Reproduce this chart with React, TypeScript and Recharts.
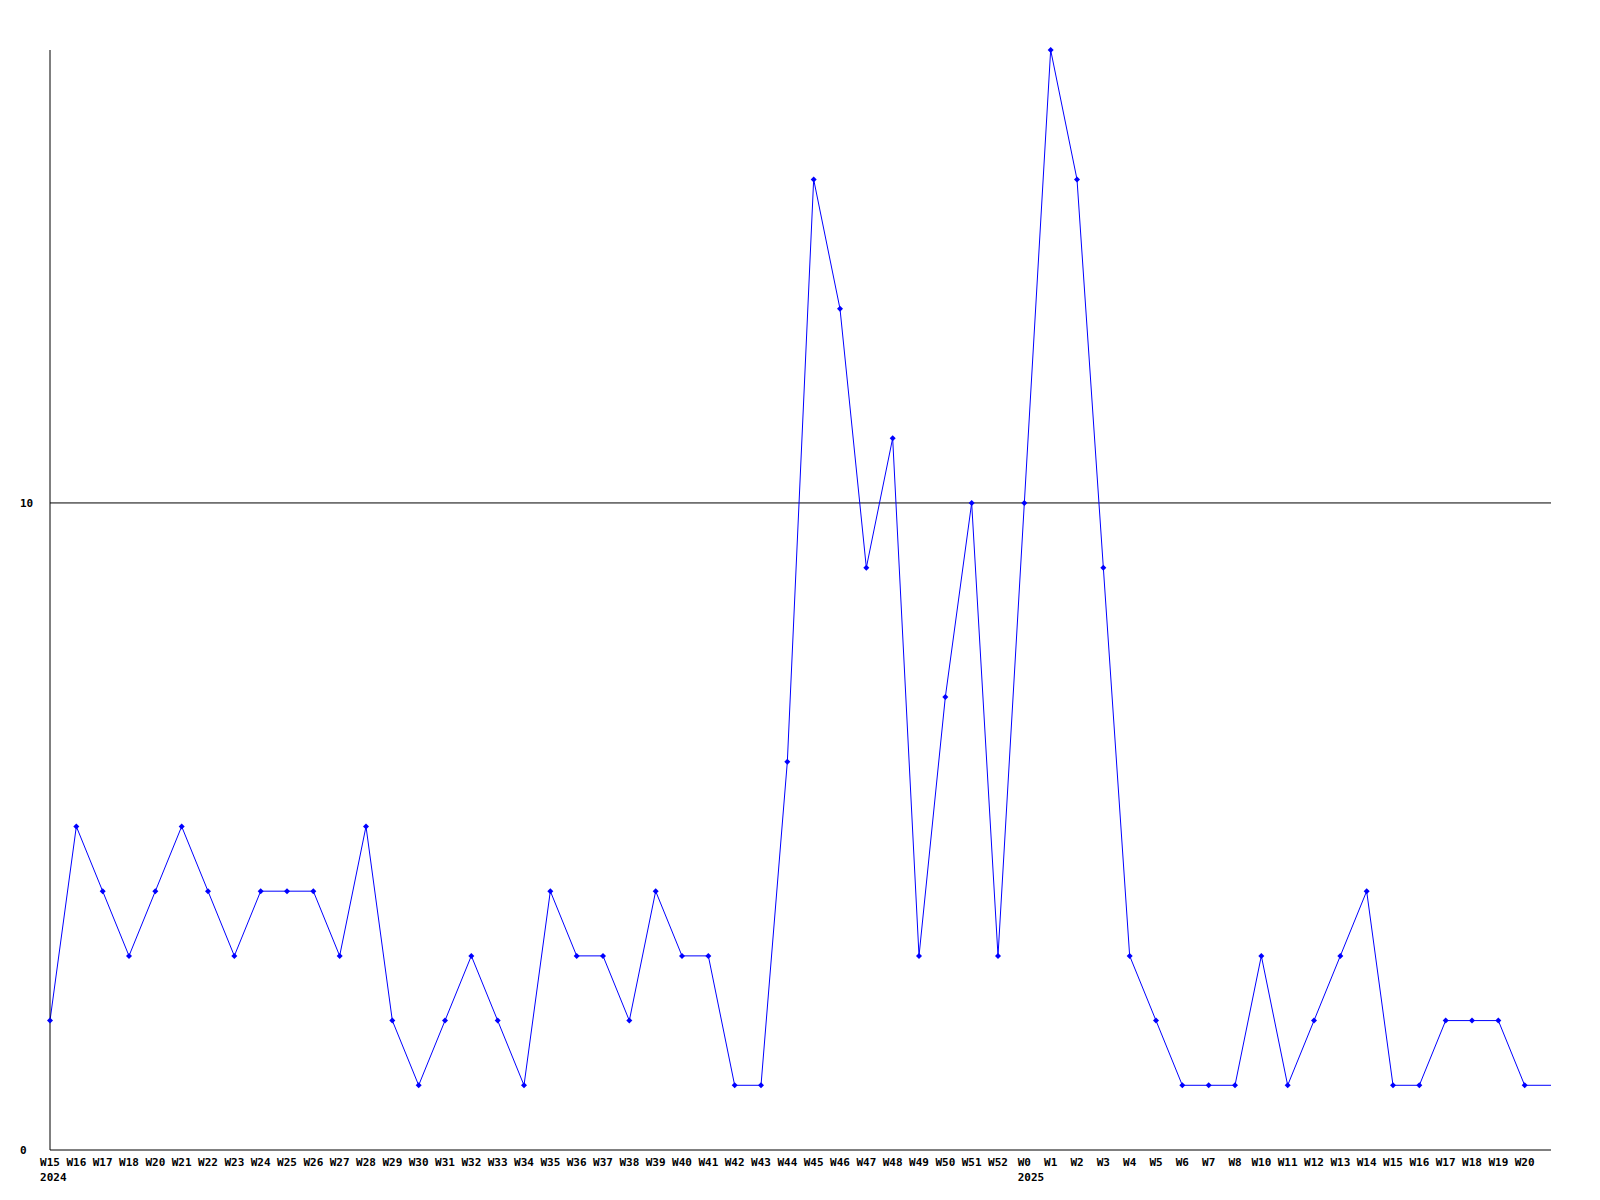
import { LineChart, Line, XAxis, YAxis, ReferenceLine } from "recharts"

document.body.style.margin = "0"

const weeks = [
  "W15", "W16", "W17", "W18", "W20", "W21", "W22", "W23", "W24", "W25", "W26", "W27", "W28",
  "W29", "W30", "W31", "W32", "W33", "W34", "W35", "W36", "W37", "W38", "W39", "W40", "W41",
  "W42", "W43", "W44", "W45", "W46", "W47", "W48", "W49", "W50", "W51", "W52",
  "W0", "W1", "W2", "W3", "W4", "W5", "W6", "W7", "W8", "W10", "W11", "W12", "W13", "W14",
  "W15", "W16", "W17", "W18", "W19", "W20", "",
]

const counts = [
  2, 5, 4, 3, 4, 5, 4, 3, 4, 4, 4, 3, 5,
  2, 1, 2, 3, 2, 1, 4, 3, 3, 2, 4, 3, 3,
  1, 1, 6, 15, 13, 9, 11, 3, 7, 10, 3,
  10, 17, 15, 9, 3, 2, 1, 1, 1, 3, 1, 2, 3, 4,
  1, 1, 2, 2, 2, 1, 1,
]

const yearMarks = [
  { index: 0, label: "2024" },
  { index: 37, label: "2025" },
]

const yTicks = [0, 10]

const data = weeks.map((w, i) => ({ key: i, week: w, count: counts[i] }))

const FONT = "'DejaVu Sans Mono', monospace"

function WeekTick(props: any) {
  const { x, y, payload } = props
  const i = payload.value
  const label = weeks[i]
  if (!label) return null
  const year = yearMarks.find((m) => m.index === i)
  const half = (label.length * 6.6) / 2
  return (
    <g>
      <text x={x} y={y + 8} textAnchor="middle" fontFamily={FONT} fontSize={11} fontWeight="bold" fill="#000">
        {label}
      </text>
      {year && (
        <text x={x - half} y={y + 23} textAnchor="start" fontFamily={FONT} fontSize={11} fontWeight="bold" fill="#000">
          {year.label}
        </text>
      )}
    </g>
  )
}

function CountTick(props: any) {
  const { y, payload } = props
  return (
    <text x={20} y={y + 4} textAnchor="start" fontFamily={FONT} fontSize={11} fontWeight="bold" fill="#000">
      {payload.value}
    </text>
  )
}

function Marker(props: any) {
  const { cx, cy, index } = props
  if (index === data.length - 1) return <g key={index} />
  return (
    <path
      key={index}
      d={`M${cx - 3},${cy} L${cx},${cy - 3} L${cx + 3},${cy} L${cx},${cy + 3} Z`}
      fill="#0000ff"
      stroke="none"
    />
  )
}

export default function App() {
  return (
    <div style={{ width: 1600, height: 1200, background: "#fff" }}>
      <LineChart width={1600} height={1200} data={data} margin={{ top: 50, right: 49, bottom: 0, left: 0 }}>
        <XAxis
          dataKey="key"
          type="category"
          interval={0}
          height={50}
          tickLine={false}
          axisLine={{ stroke: "#000" }}
          tick={<WeekTick />}
        />
        <YAxis
          width={50}
          domain={[0, 17]}
          ticks={yTicks}
          tickLine={false}
          axisLine={{ stroke: "#000" }}
          tick={<CountTick />}
        />
        <ReferenceLine y={10} stroke="#000" />
        <Line
          dataKey="count"
          type="linear"
          stroke="#0000ff"
          strokeWidth={1}
          dot={<Marker />}
          activeDot={false}
          isAnimationActive={false}
        />
      </LineChart>
    </div>
  )
}
